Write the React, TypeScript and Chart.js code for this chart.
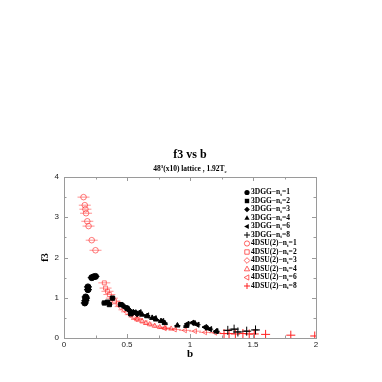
import React, { useEffect, useRef } from 'react';
import { Chart, registerables } from 'chart.js';
Chart.register(...registerables);

const titleText = 'f3 vs b';
const xLabel = 'b';
const yLabel = 'f3';
const xTickValues = [0, 0.5, 1, 1.5, 2];
const yTickValues = [0, 1, 2, 3, 4];
const ntValues = ['1', '2', '3', '4', '6', '8'];

// 3DGG series (black, filled)
const gg1X = [0.165, 0.17, 0.175, 0.172, 0.19, 0.19, 0.22, 0.235, 0.25];
const gg1Y = [0.87, 0.93, 0.99, 1.02, 1.2, 1.27, 1.5, 1.52, 1.53];
const gg2X = [0.32, 0.345, 0.36, 0.385, 0.45, 0.5, 0.53];
const gg2Y = [0.87, 0.89, 0.83, 0.99, 0.83, 0.74, 0.6];
const gg3X = [0.47, 0.5, 0.52, 0.55, 0.58];
const gg3Y = [0.8, 0.74, 0.68, 0.64, 0.6];
const gg4X = [0.57, 0.62, 0.66, 0.7, 0.73, 0.77, 0.8, 0.9, 0.97, 1.04, 1.14, 1.21];
const gg4Y = [0.63, 0.58, 0.54, 0.5, 0.46, 0.42, 0.37, 0.31, 0.3, 0.36, 0.24, 0.16];
const gg6X = [0.6, 0.66, 0.72, 0.78, 0.98, 1.02, 1.06, 1.12, 1.16, 1.21];
const gg6Y = [0.64, 0.56, 0.49, 0.42, 0.35, 0.38, 0.33, 0.27, 0.22, 0.17];
const gg8X = [1.3, 1.35, 1.38, 1.45, 1.52];
const gg8Y = [0.19, 0.22, 0.15, 0.17, 0.2];

// 4DSU(2) series (red, open)
const su1X = [0.155, 0.165, 0.17, 0.175, 0.185, 0.195, 0.22, 0.25];
const su1Y = [3.5, 3.3, 3.2, 3.1, 2.9, 2.78, 2.43, 2.18];
const su2X = [0.32, 0.33, 0.345, 0.36, 0.38, 0.4, 0.43];
const su2Y = [1.37, 1.24, 1.16, 1.08, 0.99, 0.92, 0.85];
const su3X = [0.45, 0.48, 0.5, 0.53, 0.56, 0.58];
const su3Y = [0.78, 0.7, 0.65, 0.58, 0.52, 0.48];
const su4X = [0.58, 0.62, 0.65, 0.68, 0.72, 0.76, 0.8, 0.85];
const su4Y = [0.46, 0.42, 0.37, 0.34, 0.3, 0.27, 0.25, 0.23];
const su6X = [0.8, 0.88, 0.96, 1.04, 1.12, 1.2];
const su6Y = [0.24, 0.21, 0.19, 0.17, 0.14, 0.13];
const su8X = [1.27, 1.31, 1.36, 1.42, 1.47, 1.51, 1.6, 1.8, 1.99];
const su8Y = [0.11, 0.11, 0.1, 0.11, 0.1, 0.1, 0.09, 0.07, 0.05];

const ggXs = [gg1X, gg2X, gg3X, gg4X, gg6X, gg8X];
const ggYs = [gg1Y, gg2Y, gg3Y, gg4Y, gg6Y, gg8Y];
const suXs = [su1X, su2X, su3X, su4X, su6X, su8X];
const suYs = [su1Y, su2Y, su3Y, su4Y, su6Y, su8Y];

const styles = ['circle', 'rect', 'rectRot', 'triangle', 'leftTri', 'cross'];
const SERIF = "'Liberation Serif', 'DejaVu Serif', serif";
const SANS = "'Liberation Sans', 'DejaVu Sans', sans-serif";
const RED = '#ff2020';

function pts(xs: number[], ys: number[]) {
  return xs.map((x, i) => ({ x, y: ys[i] }));
}

function marker(ctx: CanvasRenderingContext2D, style: string, x: number, y: number, r: number, color: string, filled: boolean) {
  ctx.save();
  ctx.strokeStyle = color;
  ctx.fillStyle = color;
  ctx.lineWidth = 0.7;
  ctx.beginPath();
  if (style === 'circle') {
    ctx.arc(x, y, r, 0, Math.PI * 2);
  } else if (style === 'rect') {
    const s = r * 0.85;
    ctx.rect(x - s, y - s, 2 * s, 2 * s);
  } else if (style === 'rectRot') {
    ctx.moveTo(x, y - r * 1.1); ctx.lineTo(x + r * 1.1, y); ctx.lineTo(x, y + r * 1.1); ctx.lineTo(x - r * 1.1, y); ctx.closePath();
  } else if (style === 'triangle') {
    ctx.moveTo(x, y - r * 1.1); ctx.lineTo(x + r, y + r * 0.7); ctx.lineTo(x - r, y + r * 0.7); ctx.closePath();
  } else if (style === 'leftTri') {
    ctx.moveTo(x - r * 1.1, y); ctx.lineTo(x + r * 0.7, y - r); ctx.lineTo(x + r * 0.7, y + r); ctx.closePath();
  } else if (style === 'cross') {
    ctx.moveTo(x - r, y); ctx.lineTo(x + r, y); ctx.moveTo(x, y - r); ctx.lineTo(x, y + r);
    ctx.lineWidth = 1;
    ctx.stroke();
    ctx.restore();
    return;
  }
  if (filled) ctx.fill(); else ctx.stroke();
  ctx.restore();
}

function makeDataset(label: string, xs: number[], ys: number[], style: string, red: boolean) {
  const color = red ? RED : '#000000';
  const base: any = {
    label,
    data: pts(xs, ys),
    showLine: false,
    borderColor: color,
    backgroundColor: red ? 'rgba(0,0,0,0)' : color,
    borderWidth: red ? 0.6 : 1,
    pointRadius: red ? 2.8 : 3,
    pointHoverRadius: 3,
    myStyle: style,
    myRed: red,
  };
  if (style === 'leftTri') {
    base.pointStyle = 'triangle';
    base.rotation = -90;
  } else if (style === 'cross') {
    base.pointStyle = 'cross';
    base.pointRadius = 4.5;
    base.borderWidth = 1;
  } else {
    base.pointStyle = style;
  }
  return base;
}

const decorPlugin = {
  id: 'decor',
  beforeDatasetsDraw(chart: any) {
    const ctx = chart.ctx as CanvasRenderingContext2D;
    // horizontal error whiskers
    chart.data.datasets.forEach((ds: any, di: number) => {
      const meta = chart.getDatasetMeta(di);
      const half = ds.myRed ? (ds.myStyle === 'cross' ? 0 : 6) : (ds.myStyle === 'circle' ? 4 : 3);
      if (!half) return;
      ctx.save();
      ctx.strokeStyle = ds.myRed ? RED : '#000000';
      ctx.lineWidth = ds.myRed ? 0.5 : 1;
      meta.data.forEach((p: any) => {
        ctx.beginPath();
        ctx.moveTo(p.x - half, p.y);
        ctx.lineTo(p.x + half, p.y);
        ctx.stroke();
      });
      ctx.restore();
    });
  },
  afterDraw(chart: any) {
    const ctx = chart.ctx as CanvasRenderingContext2D;
    const { left, right, top, bottom } = chart.chartArea;
    const xs = chart.scales.x;
    const ys = chart.scales.y;
    ctx.save();
    // frame
    ctx.strokeStyle = '#9a9a9a';
    ctx.lineWidth = 1;
    ctx.strokeRect(Math.round(left) + 0.5, Math.round(top) + 0.5, Math.round(right - left), Math.round(bottom - top));
    // ticks
    ctx.beginPath();
    for (let v = 0; v <= 2.0001; v += 0.25) {
      const px = Math.round(xs.getPixelForValue(v)) + 0.5;
      const len = Math.abs(v * 2 - Math.round(v * 2)) < 1e-6 ? 4 : 2.5;
      ctx.moveTo(px, bottom); ctx.lineTo(px, bottom - len);
      ctx.moveTo(px, top); ctx.lineTo(px, top + len);
    }
    for (let v = 0; v <= 4.0001; v += 0.5) {
      const py = Math.round(ys.getPixelForValue(v)) + 0.5;
      const len = Math.abs(v - Math.round(v)) < 1e-6 ? 4 : 2.5;
      ctx.moveTo(left, py); ctx.lineTo(left + len, py);
      ctx.moveTo(right, py); ctx.lineTo(right - len, py);
    }
    ctx.stroke();

    const cx = (left + right) / 2;
    ctx.fillStyle = '#000';
    ctx.textBaseline = 'middle';
    ctx.textAlign = 'center';
    // title
    ctx.font = `bold 12px ${SERIF}`;
    ctx.fillText(titleText, cx, 155);
    // subtitle: 48^3(x10) lattice , 1.92T_c
    const parts: [string, number, number][] = [
      ['48', 7.5, 0], ['3', 5, -3], ['(x10) lattice , 1.92T', 7.5, 0], ['c', 5, 2],
    ];
    let total = 0;
    parts.forEach(([t, s]) => { ctx.font = `bold ${s}px ${SERIF}`; total += ctx.measureText(t).width; });
    let sx = cx - total / 2;
    ctx.textAlign = 'left';
    parts.forEach(([t, s, dy]) => {
      ctx.font = `bold ${s}px ${SERIF}`;
      ctx.fillText(t, sx, 169.5 + dy);
      sx += ctx.measureText(t).width;
    });
    // axis titles
    ctx.textAlign = 'center';
    ctx.font = `bold 11px ${SERIF}`;
    ctx.fillText(xLabel, cx, 354);
    ctx.save();
    ctx.translate(45, (top + bottom) / 2);
    ctx.rotate(-Math.PI / 2);
    ctx.font = `bold 10px ${SERIF}`;
    ctx.fillText(yLabel, 0, 0);
    ctx.restore();

    // legend
    const lx = 247;
    let ly = 192.5;
    const step = 8.5;
    chart.data.datasets.forEach((ds: any) => {
      const color = ds.myRed ? RED : '#000000';
      marker(ctx, ds.myStyle, lx, ly, ds.myStyle === 'cross' ? 3 : 2.6, color, !ds.myRed);
      const [pre, post] = ds.label.split('|');
      ctx.fillStyle = '#000';
      ctx.textAlign = 'left';
      ctx.font = `bold 7.5px ${SERIF}`;
      let tx = lx + 4;
      ctx.fillText(pre, tx, ly);
      tx += ctx.measureText(pre).width;
      ctx.font = `bold 5px ${SERIF}`;
      ctx.fillText('t', tx, ly + 2);
      tx += ctx.measureText('t').width;
      ctx.font = `bold 7.5px ${SERIF}`;
      ctx.fillText(post, tx, ly);
      ly += step;
    });
    ctx.restore();
  },
};

export default function App() {
  const ref = useRef<HTMLCanvasElement>(null);
  useEffect(() => {
    if (!ref.current) return;
    const datasets: any[] = [];
    ntValues.forEach((nt, i) => datasets.push(makeDataset(`3DGG\u2212n|=${nt}`, ggXs[i], ggYs[i], styles[i], false)));
    ntValues.forEach((nt, i) => datasets.push(makeDataset(`4DSU(2)\u2212n|=${nt}`, suXs[i], suYs[i], styles[i], true)));
    const chart = new Chart(ref.current, {
      type: 'scatter',
      data: { datasets },
      options: {
        responsive: false,
        animation: false,
        devicePixelRatio: 1,
        layout: { padding: { top: 177, right: 66, bottom: 0, left: 0 } },
        plugins: { legend: { display: false }, title: { display: false }, tooltip: { enabled: false } },
        scales: {
          x: {
            type: 'linear', min: 0, max: 2,
            afterBuildTicks: (s: any) => { s.ticks = xTickValues.map((v) => ({ value: v })); },
            afterFit: (s: any) => { s.height = 44; },
            grid: { display: false, drawTicks: false },
            border: { display: false },
            ticks: { padding: 2, color: '#222', font: { family: SANS, size: 8 }, callback: (v: any) => String(v) },
          },
          y: {
            type: 'linear', min: 0, max: 4,
            afterBuildTicks: (s: any) => { s.ticks = yTickValues.map((v) => ({ value: v })); },
            afterFit: (s: any) => { s.width = 64; },
            grid: { display: false, drawTicks: false },
            border: { display: false },
            ticks: { padding: 5, color: '#222', font: { family: SANS, size: 8 }, callback: (v: any) => String(v) },
          },
        },
      },
      plugins: [decorPlugin],
    } as any);
    return () => chart.destroy();
  }, []);
  return (
    <div style={{ position: 'fixed', left: 0, top: 0, width: 382, height: 382, background: '#fff' }}>
      <canvas ref={ref} width={382} height={382} style={{ width: 382, height: 382, display: 'block' }} />
    </div>
  );
}
